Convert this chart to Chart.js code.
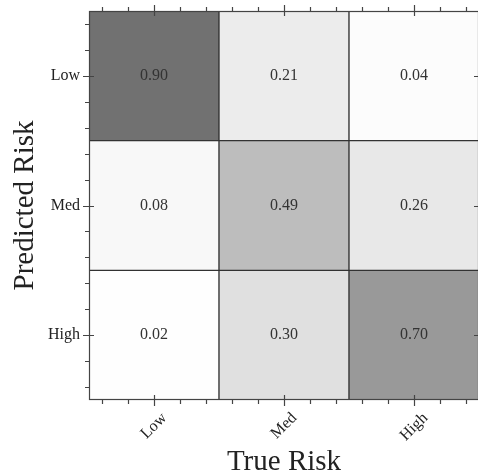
<!DOCTYPE html>
<html>
<head>
<meta charset="utf-8">
<script src="https://cdn.jsdelivr.net/npm/chart.js@4/dist/chart.umd.min.js"></script>
<style>
  html, body { margin: 0; padding: 0; background: #fff; overflow: hidden; }
  #wrap { width: 479px; height: 475px; }
</style>
</head>
<body>
<div id="wrap"><canvas id="cm"></canvas></div>
<script>
// true risk (columns) and predicted risk (rows)
const trueLabels = ['Low', 'Med', 'High'];
const predLabels = ['Low', 'Med', 'High'];

// one row per predicted class
const rowLow = [0.90, 0.21, 0.04];
const rowMed = [0.08, 0.49, 0.26];
const rowHigh = [0.02, 0.30, 0.70];
const matrix = [rowLow, rowMed, rowHigh];

// grey shades, same order as the matrix
const shades = [
    ['#717171', '#ececec', '#fcfcfc'],
    ['#f8f8f8', '#bdbdbd', '#e8e8e8'],
    ['#fefefe', '#e0e0e0', '#999999']
];

const serif = '"Liberation Serif", "DejaVu Serif", serif';

// each cell is a floating bar spanning one row band
const datasets = matrix.map((row, i) => ({
    label: predLabels[i],
    data: row.map(() => [i, i + 1]),
    values: row,
    backgroundColor: shades[i],
    borderColor: '#333',
    borderWidth: 1,
    borderSkipped: false,
    barPercentage: 1,
    categoryPercentage: 1
}));

// write value in the middle of each cell
const cellText = {
    id: 'cellText',
    afterDatasetsDraw(chart) {
        const ctx = chart.ctx;
        ctx.save();
        ctx.font = '16px ' + serif;
        ctx.fillStyle = '#333';
        ctx.textAlign = 'center';
        ctx.textBaseline = 'middle';
        chart.data.datasets.forEach((ds, i) => {
            chart.getDatasetMeta(i).data.forEach((bar, j) => {
                ctx.fillText(ds.values[j].toFixed(2), bar.x, (bar.y + bar.base) / 2);
            });
        });
        ctx.restore();
    }
};

// frame, major / minor ticks on all four sides, rotated x labels
const frameTicks = {
    id: 'frameTicks',
    afterDraw(chart) {
        const {ctx, chartArea: a, scales: {x, y}} = chart;
        const minor = [-0.4, -0.2, 0.2, 0.4];
        ctx.save();
        ctx.strokeStyle = '#444';
        ctx.lineWidth = 1.2;
        ctx.strokeRect(a.left + 0.5, a.top + 0.5, a.width - 1, a.height - 1);

        ctx.beginPath();
        trueLabels.forEach((_, j) => {
            const px = Math.round(x.getPixelForValue(j)) + 0.5;
            ctx.moveTo(px, a.top - 6); ctx.lineTo(px, a.top + 5);
            ctx.moveTo(px, a.bottom + 6); ctx.lineTo(px, a.bottom - 5);
            minor.forEach(d => {
                const mx = Math.round(x.getPixelForValue(j + d)) + 0.5;
                ctx.moveTo(mx, a.top - 4); ctx.lineTo(mx, a.top);
                ctx.moveTo(mx, a.bottom + 4); ctx.lineTo(mx, a.bottom);
            });
        });
        predLabels.forEach((_, i) => {
            const py = Math.round(y.getPixelForValue(i + 0.5)) + 0.5;
            ctx.moveTo(a.left - 6, py); ctx.lineTo(a.left + 5, py);
            ctx.moveTo(a.right + 6, py); ctx.lineTo(a.right - 5, py);
            minor.forEach(d => {
                const my = Math.round(y.getPixelForValue(i + 0.5 + d)) + 0.5;
                ctx.moveTo(a.left - 4, my); ctx.lineTo(a.left, my);
                ctx.moveTo(a.right + 4, my); ctx.lineTo(a.right, my);
            });
        });
        ctx.stroke();

        // x tick labels: rotated 45deg, box centred under the tick
        const ang = 45 * Math.PI / 180;
        ctx.font = '16px ' + serif;
        ctx.fillStyle = '#222';
        ctx.textAlign = 'center';
        ctx.textBaseline = 'middle';
        trueLabels.forEach((lab, j) => {
            const w = ctx.measureText(lab).width;
            const boxH = (w + 16) * Math.sin(ang);
            const cx = x.getPixelForValue(j);
            const cy = a.bottom + 10 + boxH / 2;
            ctx.save();
            ctx.translate(cx, cy);
            ctx.rotate(-ang);
            ctx.fillText(lab, 0, 0);
            ctx.restore();
        });
        ctx.restore();
    }
};

new Chart(document.getElementById('cm'), {
    type: 'bar',
    data: {
        labels: trueLabels,
        datasets: datasets
    },
    plugins: [cellText, frameTicks],
    options: {
        responsive: true,
        maintainAspectRatio: false,
        animation: false,
        layout: { padding: { top: 11, right: 0, left: 0, bottom: 0 } },
        plugins: {
            legend: { display: false },
            tooltip: { enabled: false }
        },
        scales: {
            x: {
                stacked: true,
                grid: { display: false, drawTicks: false },
                border: { display: false },
                afterFit: (s) => {
                    s.height = 75;
                    s.paddingLeft = 0;
                    s.paddingRight = 0;
                },
                ticks: { display: false },
                title: {
                    display: true,
                    text: 'True Risk',
                    color: '#222',
                    font: { family: serif, size: 29, lineHeight: 0.8 },
                    padding: { top: 0, bottom: 1 }
                }
            },
            y: {
                min: 0,
                max: 3,
                reverse: true,
                grid: { display: false, drawTicks: false },
                border: { display: false },
                afterFit: (s) => {
                    s.width = 89;
                    s.paddingTop = 0;
                    s.paddingBottom = 0;
                },
                afterBuildTicks: (s) => {
                    s.ticks = predLabels.map((_, i) => ({ value: i + 0.5 }));
                },
                ticks: {
                    padding: 9,
                    color: '#222',
                    font: { family: serif, size: 16 },
                    callback: (v, idx) => predLabels[idx]
                },
                title: {
                    display: true,
                    text: 'Predicted Risk',
                    color: '#222',
                    font: { family: serif, size: 29 },
                    padding: { top: 8, bottom: 0 }
                }
            }
        }
    }
});
</script>
</body>
</html>
